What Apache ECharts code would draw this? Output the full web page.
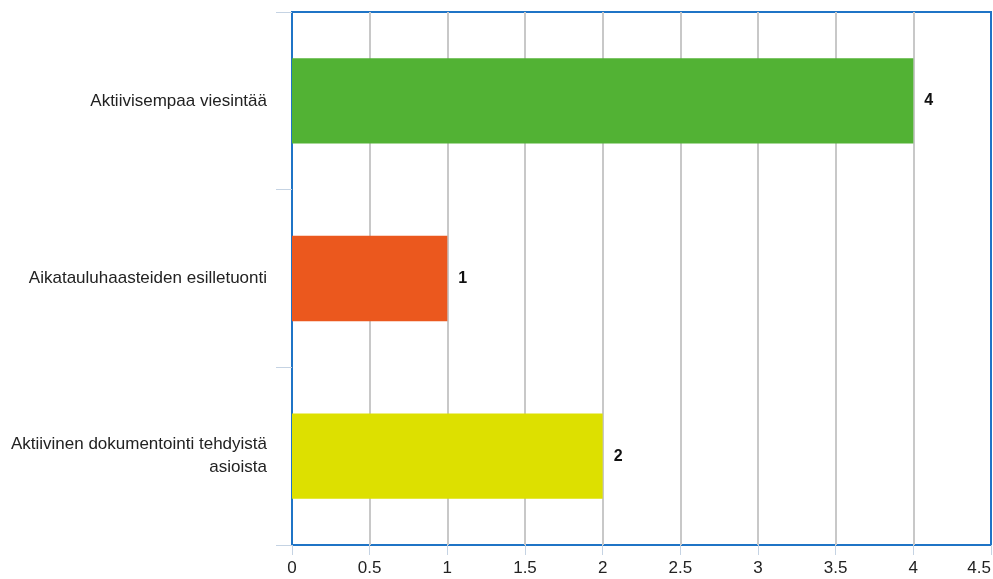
<!DOCTYPE html>
<html>
<head>
<meta charset="utf-8">
<script src="https://cdn.jsdelivr.net/npm/echarts@6/dist/echarts.min.js"></script>
<style>
  html, body { margin: 0; padding: 0; background: #fff; overflow: hidden; }
  #chart { width: 993px; height: 579px; }
</style>
</head>
<body>
<div id="chart"></div>
<script>
// Categories listed top to bottom
const categories = [
  'Aktiivisempaa viesintää',
  'Aikatauluhaasteiden esilletuonti',
  'Aktiivinen dokumentointi tehdyistä asioista'
];
const values = [4, 1, 2];
const barColors = ['#52b234', '#eb581e', '#dde000'];
const xTicks = [0, 0.5, 1, 1.5, 2, 2.5, 3, 3.5, 4, 4.5];

const FONT = 'Liberation Sans, Arial, sans-serif';
const LABEL_SIZE = 17;
const LABEL_WIDTH = 270;

// Word-wrap a category name so that each line fits the label column
const measureCtx = document.createElement('canvas').getContext('2d');
measureCtx.font = LABEL_SIZE + 'px ' + FONT;
function wrapLabel(text) {
  const words = text.split(' ');
  const lines = [];
  let line = '';
  words.forEach(w => {
    const trial = line ? line + ' ' + w : w;
    if (line && measureCtx.measureText(trial).width > LABEL_WIDTH) {
      lines.push(line);
      line = w;
    } else {
      line = trial;
    }
  });
  if (line) lines.push(line);
  return lines.join('\n');
}

const chart = echarts.init(document.getElementById('chart'), null, { renderer: 'canvas' });

chart.setOption({
  animation: false,
  grid: {
    left: 292, right: 2, top: 12, bottom: 34,
    outerBoundsMode: 'none',
    containLabel: false,
    show: true,
    borderColor: '#1f74c6',
    borderWidth: 2,
    backgroundColor: 'transparent'
  },
  xAxis: {
    type: 'value',
    min: xTicks[0],
    max: xTicks[xTicks.length - 1],
    interval: 0.5,
    axisLine: { show: false },
    axisTick: { show: true, length: 10, lineStyle: { color: '#c5d3e3', width: 1 } },
    axisLabel: {
      color: '#222',
      fontFamily: FONT,
      fontSize: LABEL_SIZE,
      margin: 15,
      showMinLabel: true,
      showMaxLabel: true,
      alignMaxLabel: 'right',
      hideOverlap: false
    },
    splitLine: {
      show: true,
      showMinLine: false,
      showMaxLine: false,
      lineStyle: { color: '#c8c8c8', width: 2 }
    }
  },
  yAxis: {
    type: 'category',
    data: categories,
    inverse: true,
    axisLine: { show: false },
    axisTick: { show: true, length: 16, lineStyle: { color: '#c5d3e3', width: 1 } },
    axisLabel: {
      color: '#222',
      fontFamily: FONT,
      fontSize: LABEL_SIZE,
      margin: 25,
      lineHeight: 23,
      align: 'right',
      formatter: wrapLabel
    },
    splitLine: { show: false }
  },
  series: [{
    type: 'bar',
    barWidth: '48%',
    data: values.map((v, i) => ({ value: v, itemStyle: { color: barColors[i] } })),
    label: {
      show: true,
      position: 'right',
      distance: 11,
      color: '#111',
      fontWeight: 'bold',
      fontSize: 16,
      fontFamily: FONT
    }
  }]
});
</script>
</body>
</html>
